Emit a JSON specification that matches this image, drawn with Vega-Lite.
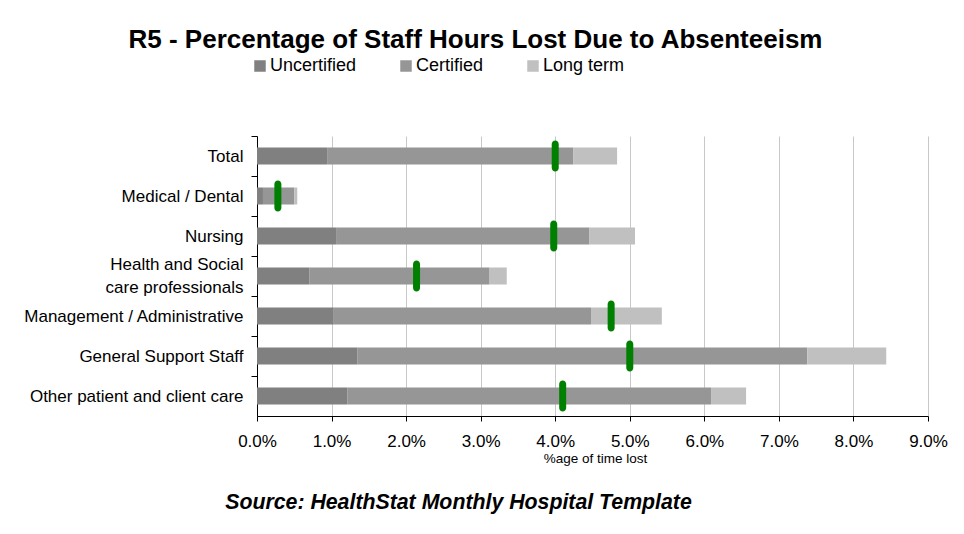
{
  "$schema": "https://vega.github.io/schema/vega-lite/v6.json",
  "autosize": {"type": "none"},
  "width": 671,
  "height": 280,
  "padding": {"left": 257, "top": 136, "right": 36, "bottom": 118},
  "background": "white",
  "title": {
    "text": "R5 - Percentage of Staff Hours Lost Due to Absenteeism",
    "font": "Liberation Sans",
    "fontSize": 26,
    "fontWeight": "bold",
    "color": "black",
    "anchor": "middle",
    "frame": "group",
    "dx": -117,
    "offset": 4
  },
  "datasets": {
    "parts": [
      {"category": "Total", "type": "Uncertified", "k": 1, "value": 0.0094},
      {"category": "Total", "type": "Certified", "k": 2, "value": 0.0330},
      {"category": "Total", "type": "Long term", "k": 3, "value": 0.0059},
      {"category": "Medical / Dental", "type": "Uncertified", "k": 1, "value": 0.0008},
      {"category": "Medical / Dental", "type": "Certified", "k": 2, "value": 0.0042},
      {"category": "Medical / Dental", "type": "Long term", "k": 3, "value": 0.0004},
      {"category": "Nursing", "type": "Uncertified", "k": 1, "value": 0.0107},
      {"category": "Nursing", "type": "Certified", "k": 2, "value": 0.0339},
      {"category": "Nursing", "type": "Long term", "k": 3, "value": 0.0061},
      {"category": "Health and Social care professionals", "type": "Uncertified", "k": 1, "value": 0.0070},
      {"category": "Health and Social care professionals", "type": "Certified", "k": 2, "value": 0.0242},
      {"category": "Health and Social care professionals", "type": "Long term", "k": 3, "value": 0.0023},
      {"category": "Management / Administrative", "type": "Uncertified", "k": 1, "value": 0.0103},
      {"category": "Management / Administrative", "type": "Certified", "k": 2, "value": 0.0345},
      {"category": "Management / Administrative", "type": "Long term", "k": 3, "value": 0.0095},
      {"category": "General Support Staff", "type": "Uncertified", "k": 1, "value": 0.0135},
      {"category": "General Support Staff", "type": "Certified", "k": 2, "value": 0.0603},
      {"category": "General Support Staff", "type": "Long term", "k": 3, "value": 0.0106},
      {"category": "Other patient and client care", "type": "Uncertified", "k": 1, "value": 0.0121},
      {"category": "Other patient and client care", "type": "Certified", "k": 2, "value": 0.0488},
      {"category": "Other patient and client care", "type": "Long term", "k": 3, "value": 0.0047}
    ],
    "targets": [
      {"category": "Total", "target": 0.0400},
      {"category": "Medical / Dental", "target": 0.0028},
      {"category": "Nursing", "target": 0.0398},
      {"category": "Health and Social care professionals", "target": 0.0214},
      {"category": "Management / Administrative", "target": 0.0475},
      {"category": "General Support Staff", "target": 0.0500},
      {"category": "Other patient and client care", "target": 0.0410}
    ]
  },
  "encoding": {
    "y": {
      "field": "category",
      "type": "nominal",
      "sort": ["Total", "Medical / Dental", "Nursing", "Health and Social care professionals", "Management / Administrative", "General Support Staff", "Other patient and client care"],
      "scale": {"paddingInner": 0.575, "paddingOuter": 0.2875},
      "axis": {
        "title": null,
        "labelFont": "Liberation Sans",
        "labelFontSize": 17,
        "labelColor": "black",
        "labelPadding": 8,
        "labelLimit": 400,
        "labelLineHeight": 23,
        "labelExpr": "datum.label == 'Health and Social care professionals' ? ['Health and Social', 'care professionals'] : datum.label",
        "tickSize": 6,
        "tickColor": "black",
        "tickOffset": -20,
        "labelOffset": {"condition": {"test": "datum.value == 'Health and Social care professionals'", "value": 8.5}, "value": 20},
        "domainColor": "black",
        "domainWidth": 1,
        "grid": false
      }
    }
  },
  "layer": [
    {
      "data": {"name": "parts"},
      "mark": {"type": "bar", "strokeWidth": 0},
      "encoding": {
        "x": {
          "field": "value",
          "type": "quantitative",
          "stack": "zero",
          "scale": {"domain": [0, 0.09], "nice": false, "zero": true},
          "axis": {
            "values": [0, 0.01, 0.02, 0.03, 0.04, 0.05, 0.06, 0.07, 0.08, 0.09],
            "format": ".1%",
            "title": "%age of time lost",
            "titleFont": "Liberation Sans",
            "titleFontSize": 13.5,
            "titleFontWeight": "normal",
            "titleColor": "black",
            "titleBaseline": "alphabetic",
            "titleY": 46,
            "titleX": 338,
            "labelFont": "Liberation Sans",
            "labelFontSize": 17,
            "labelColor": "black",
            "labelPadding": 12,
            "labelFlush": false,
            "tickSize": 5,
            "tickColor": "black",
            "domainColor": "black",
            "grid": true,
            "gridColor": "#c8c8c8",
            "gridWidth": 1,
            "orient": "bottom"
          }
        },
        "color": {
          "field": "type",
          "type": "nominal",
          "sort": ["Uncertified", "Certified", "Long term"],
          "scale": {"domain": ["Uncertified", "Certified", "Long term"], "range": ["#808080", "#969696", "#c0c0c0"]},
          "legend": {
            "orient": "none",
            "legendX": -6,
            "legendY": -79,
            "direction": "horizontal",
            "title": null,
            "labelFont": "Liberation Sans",
            "labelFontSize": 18,
            "labelColor": "black",
            "symbolType": "square",
            "symbolSize": 132,
            "symbolStrokeWidth": 0,
            "labelOffset": 1,
            "columnPadding": 40
          }
        },
        "order": {"field": "k", "type": "quantitative"}
      }
    },
    {
      "data": {"name": "targets"},
      "mark": {"type": "tick", "color": "#008000", "thickness": 7, "size": 31, "cornerRadius": 3.5, "opacity": 1},
      "encoding": {
        "x": {
          "field": "target",
          "type": "quantitative",
          "axis": {
            "orient": "bottom",
            "labels": false,
            "ticks": false,
            "domain": false,
            "grid": false,
            "title": "Source: HealthStat Monthly Hospital Template",
            "titleFont": "Liberation Sans",
            "titleFontSize": 21.3,
            "titleFontWeight": "bold",
            "titleFontStyle": "italic",
            "titleColor": "black",
            "titleBaseline": "alphabetic",
            "titleAlign": "center",
            "titleX": 201,
            "titleY": 92
          }
        }
      }
    }
  ],
  "resolve": {"axis": {"x": "independent"}},
  "config": {"view": {"stroke": null}}
}
